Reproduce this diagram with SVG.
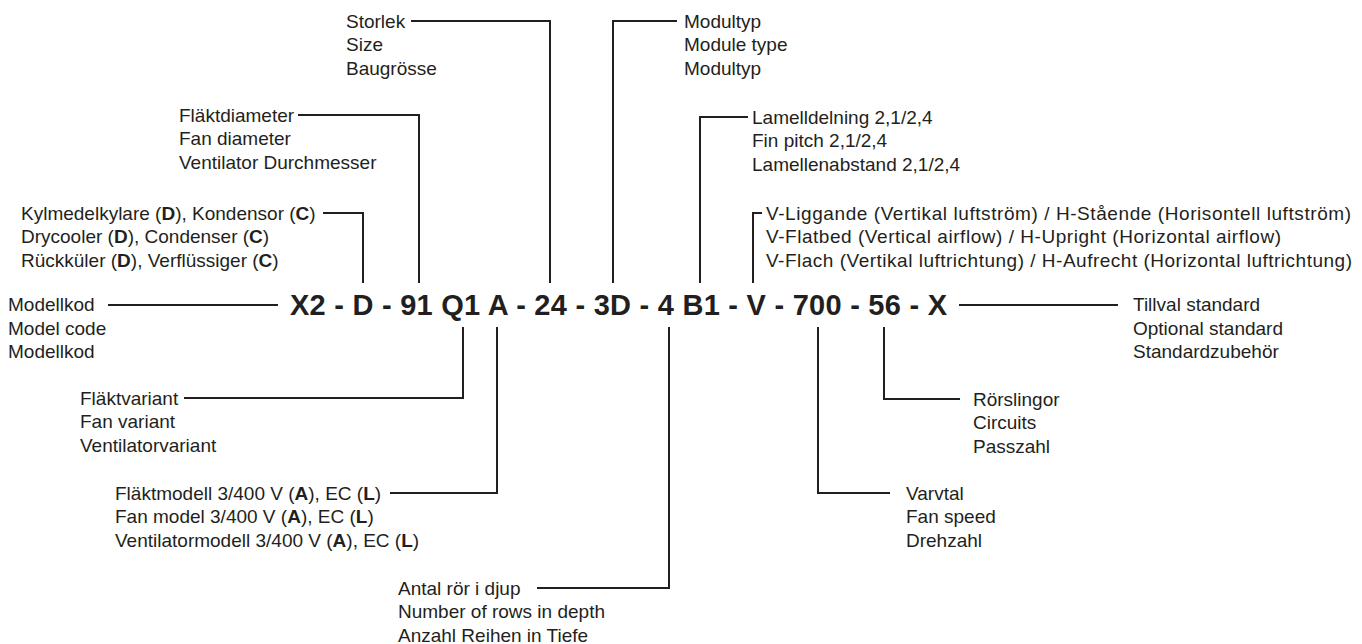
<svg xmlns="http://www.w3.org/2000/svg" width="1362" height="644" viewBox="0 0 1362 644">
<style>
text{font-family:"Liberation Sans",Arial,sans-serif;font-size:19px;fill:#231f20}
.code{font-size:29px;font-weight:bold}
.b{font-weight:bold}
.c{fill:none;stroke:#231f20;stroke-width:2}
</style>
<rect width="1362" height="644" fill="#fff"/>
<g id="connectors">
<polyline class="c" points="108,305 278,305"/>
<polyline class="c" points="959,305 1118,305"/>
<polyline class="c" points="323,213 363,213 363,283"/>
<polyline class="c" points="298,115 419,115 419,283"/>
<polyline class="c" points="411,21 550,21 550,283"/>
<polyline class="c" points="677,21 613,21 613,283"/>
<polyline class="c" points="748,117 700,117 700,283"/>
<polyline class="c" points="762,213 753,213 753,283"/>
<polyline class="c" points="184,398 463,398 463,327"/>
<polyline class="c" points="390,493 497,493 497,327"/>
<polyline class="c" points="537,588 669,588 669,327"/>
<polyline class="c" points="960,399 884,399 884,327"/>
<polyline class="c" points="890,493 818,493 818,327"/>
</g>
<g id="code"><text class="code" x="290" y="315" textLength="657" lengthAdjust="spacing">X2 - D - 91 Q1 A - 24 - 3D - 4 B1 - V - 700 - 56 - X</text></g>
<g id="modellkod"><text x="8" y="311">Modellkod</text><text x="8" y="334.5">Model code</text><text x="8" y="358">Modellkod</text></g>
<g id="tillval"><text x="1133" y="311">Tillval standard</text><text x="1133" y="334.5">Optional standard</text><text x="1133" y="358">Standardzubehör</text></g>
<g id="typ"><text x="21" y="219.5">Kylmedelkylare (<tspan class="b">D</tspan>), Kondensor (<tspan class="b">C</tspan>)</text><text x="21" y="243">Drycooler (<tspan class="b">D</tspan>), Condenser (<tspan class="b">C</tspan>)</text><text x="21" y="266.5">Rückküler (<tspan class="b">D</tspan>), Verflüssiger (<tspan class="b">C</tspan>)</text></g>
<g id="flaktdiameter"><text x="179" y="121.5">Fläktdiameter</text><text x="179" y="145">Fan diameter</text><text x="179" y="168.5">Ventilator Durchmesser</text></g>
<g id="storlek"><text x="346" y="27.5">Storlek</text><text x="346" y="51">Size</text><text x="346" y="74.5">Baugrösse</text></g>
<g id="modultyp"><text x="684" y="27.5">Modultyp</text><text x="684" y="51">Module type</text><text x="684" y="74.5">Modultyp</text></g>
<g id="lamell"><text x="752" y="123.5">Lamelldelning 2,1/2,4</text><text x="752" y="147">Fin pitch 2,1/2,4</text><text x="752" y="170.5">Lamellenabstand 2,1/2,4</text></g>
<g id="placering"><text x="766" y="219.5" textLength="585" lengthAdjust="spacing">V-Liggande (Vertikal luftström) / H-Stående (Horisontell luftström)</text><text x="766" y="243" textLength="515" lengthAdjust="spacing">V-Flatbed (Vertical airflow) / H-Upright (Horizontal airflow)</text><text x="766" y="266.5" textLength="586" lengthAdjust="spacing">V-Flach (Vertikal luftrichtung) / H-Aufrecht (Horizontal luftrichtung)</text></g>
<g id="flaktvariant"><text x="80" y="404.5">Fläktvariant</text><text x="80" y="428">Fan variant</text><text x="80" y="451.5">Ventilatorvariant</text></g>
<g id="flaktmodell"><text x="115" y="499.5">Fläktmodell 3/400 V (<tspan class="b">A</tspan>), EC (<tspan class="b">L</tspan>)</text><text x="115" y="523">Fan model 3/400 V (<tspan class="b">A</tspan>), EC (<tspan class="b">L</tspan>)</text><text x="115" y="546.5">Ventilatormodell 3/400 V (<tspan class="b">A</tspan>), EC (<tspan class="b">L</tspan>)</text></g>
<g id="rader"><text x="398" y="594.5">Antal rör i djup</text><text x="398" y="618">Number of rows in depth</text><text x="398" y="641.5">Anzahl Reihen in Tiefe</text></g>
<g id="rorslingor"><text x="973" y="405.5">Rörslingor</text><text x="973" y="429">Circuits</text><text x="973" y="452.5">Passzahl</text></g>
<g id="varvtal"><text x="906" y="499.5">Varvtal</text><text x="906" y="523">Fan speed</text><text x="906" y="546.5">Drehzahl</text></g>
</svg>
